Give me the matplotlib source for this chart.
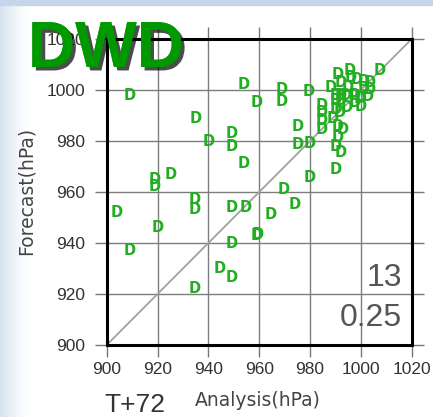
import numpy as np
import matplotlib.pyplot as plt
import matplotlib.patheffects as pe
from matplotlib.patches import Rectangle

# Datos: analisis (x) y pronostico (y) en hPa
analysis = [909, 954, 959, 935, 940, 949, 949, 954, 925, 919, 919, 904, 920, 909,
            934.5, 934.5, 949, 954.5, 969.5, 974, 964.5, 959, 959.5, 949, 944.5, 949,
            934.5, 1007.5, 969, 969, 979.5, 975, 975, 980, 980, 990, 990, 992, 991,
            993, 991, 984.5, 984.5, 984.5, 984.5, 989, 990, 991.5, 988, 991, 992,
            995.5, 996, 998.5, 1001, 1003.5, 995, 1001, 1003.5, 990, 992, 994, 990,
            992, 997.5, 999.5, 1002.5, 1000, 997.5, 994.5]
forecast = [998, 1002, 995, 989, 980, 983, 978, 971, 967, 965, 962, 952, 946, 937,
            957, 953, 954, 954, 961, 955, 951, 943, 943.5, 940, 930, 926.5,
            922, 1007.5, 1000, 995.5, 999.5, 985.5, 978.5, 979, 965.5, 969, 978, 975.5, 985.5,
            984.5, 981.5, 994, 991, 988, 984.5, 989, 992.5, 991, 1001, 1006, 1003,
            1007.5, 1005, 1004, 1003.5, 1003, 1001, 1000.5, 1000, 998, 998, 998, 996,
            996, 998, 996.5, 997.5, 993.5, 995, 993]

ticks = [900, 920, 940, 960, 980, 1000, 1020]
stats = ["13", "0.25"]
lead_time = "T+72"
model = "DWD"

fig = plt.figure(figsize=(4.33, 4.17), dpi=100)

# Fondo tipo diapositiva: franja azul arriba y degradado suave a la izquierda
bg = fig.add_axes([0, 0, 30 / 433, 1], zorder=-5)
fade = np.zeros((1, 64, 4))
fade[..., :3] = np.array([198, 214, 234]) / 255
fade[..., 3] = np.linspace(0.75, 0, 64) ** 1.3
bg.imshow(fade, aspect="auto", extent=[0, 1, 0, 1])
bg.axis("off")
fig.patches.append(Rectangle((0, 1 - 5 / 417), 1, 5 / 417, transform=fig.transFigure,
                             color="#c6d6ea", zorder=-4))

ax = fig.add_axes([106.7 / 433, 1 - 345 / 417, 305 / 433, 306 / 417])
ax.set_facecolor("white")

# Linea diagonal de pronostico perfecto
ax.plot([900, 1020], [900, 1020], color="#a0a0a0", lw=1.3, zorder=1)

# Cada punto se dibuja como la letra D
for x, y in zip(analysis, forecast):
    ax.text(x, y, "D", color="#22ad22", fontsize=10.5, fontweight="bold",
            ha="center", va="center", zorder=3)

ax.set_xlim(900, 1020)
ax.set_ylim(900, 1020)
ax.set_xticks(ticks)
ax.set_yticks(ticks)
ax.grid(True, color="#7d7d7d", lw=1.0, zorder=0)
ax.set_axisbelow(True)
ax.tick_params(direction="out", length=8.5, width=1.0, color="#777777",
               top=True, right=True, labelsize=12.5, labelcolor="#333333")
ax.tick_params(axis="y", pad=7)
ax.tick_params(axis="x", pad=4)
for lab in ax.get_xticklabels() + ax.get_yticklabels():
    lab.set_family(["Liberation Sans Narrow", "Liberation Sans"])
for s in ax.spines.values():
    s.set_linewidth(2.2)
    s.set_color("black")

# Estadisticas en la esquina inferior derecha
ax.text(0.967, 0.219, stats[0], transform=ax.transAxes, ha="right", va="center",
        fontsize=23, color="#555555", family="Liberation Sans")
ax.text(0.967, 0.088, stats[1], transform=ax.transAxes, ha="right", va="center",
        fontsize=23, color="#555555", family="Liberation Sans")

fig.text(258 / 433, 1 - 401 / 417, "Analysis(hPa)", ha="center", va="center",
         fontsize=13.5, color="#444444")
fig.text(26 / 433, 1 - 191 / 417, "Forecast(hPa)", ha="center", va="center",
         rotation=90, fontsize=13.5, color="#444444")
fig.text(135 / 433, 1 - 405 / 417, lead_time, ha="center", va="center",
         fontsize=19, color="#333333", family="Liberation Sans")

# Nombre del modelo con sombra
fig.text(28 / 433, 1 - 67 / 417, model, ha="left", va="baseline", fontsize=47,
         fontweight="bold", color="#009900", family="Liberation Sans",
         path_effects=[pe.withSimplePatchShadow(offset=(2.5, -2.5), shadow_rgbFace="black",
                                                alpha=0.7), pe.Normal()])

fig.savefig("out.png", dpi=100)
